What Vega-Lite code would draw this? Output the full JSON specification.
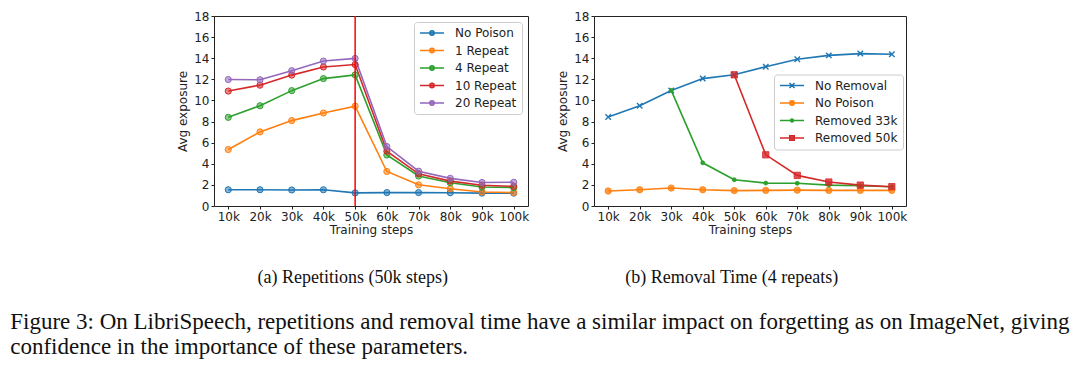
{
  "$schema": "https://vega.github.io/schema/vega-lite/v6.json",
  "background": "white",
  "padding": {"left": 10, "top": 9, "right": 5, "bottom": 5},
  "config": {
    "font": "DejaVu Sans",
    "view": {"stroke": "#222222", "strokeWidth": 1},
    "axis": {"grid": false, "domain": false, "tickColor": "#222222", "tickSize": 3, "labelFont": "DejaVu Sans", "labelFontSize": 12, "labelColor": "#222222", "titleFont": "DejaVu Sans", "titleFontSize": 12, "titleFontWeight": "normal", "titleColor": "#222222", "labelPadding": 2, "labelOverlap": false, "labelFlush": false},
    "legend": {"title": null, "padding": 5, "rowPadding": 5.5, "labelOffset": 24, "symbolSize": 100, "symbolStrokeWidth": 1.5, "labelFont": "DejaVu Sans", "labelFontSize": 12, "labelColor": "#222222", "strokeColor": "#cccccc", "fillColor": "rgba(255,255,255,0.8)", "cornerRadius": 3}
  },
  "title": {
    "text": ["Figure 3: On LibriSpeech, repetitions and removal time have a similar impact on forgetting as on ImageNet, giving", "confidence in the importance of these parameters."],
    "orient": "bottom", "anchor": "start", "frame": "bounds",
    "font": "Liberation Serif", "fontSize": 23, "fontWeight": "normal", "lineHeight": 25, "color": "#111111",
    "dx": -166, "offset": 23
  },
  "datasets": {
    "rep": [
      {"step": 10, "value": 1.54, "series": "No Poison"},
      {"step": 20, "value": 1.54, "series": "No Poison"},
      {"step": 30, "value": 1.52, "series": "No Poison"},
      {"step": 40, "value": 1.54, "series": "No Poison"},
      {"step": 50, "value": 1.24, "series": "No Poison"},
      {"step": 60, "value": 1.27, "series": "No Poison"},
      {"step": 70, "value": 1.27, "series": "No Poison"},
      {"step": 80, "value": 1.26, "series": "No Poison"},
      {"step": 90, "value": 1.22, "series": "No Poison"},
      {"step": 100, "value": 1.22, "series": "No Poison"},
      {"step": 10, "value": 5.35, "series": "1 Repeat"},
      {"step": 20, "value": 7.02, "series": "1 Repeat"},
      {"step": 30, "value": 8.09, "series": "1 Repeat"},
      {"step": 40, "value": 8.81, "series": "1 Repeat"},
      {"step": 50, "value": 9.46, "series": "1 Repeat"},
      {"step": 60, "value": 3.27, "series": "1 Repeat"},
      {"step": 70, "value": 2.01, "series": "1 Repeat"},
      {"step": 80, "value": 1.64, "series": "1 Repeat"},
      {"step": 90, "value": 1.32, "series": "1 Repeat"},
      {"step": 100, "value": 1.27, "series": "1 Repeat"},
      {"step": 10, "value": 8.4, "series": "4 Repeat"},
      {"step": 20, "value": 9.5, "series": "4 Repeat"},
      {"step": 30, "value": 10.93, "series": "4 Repeat"},
      {"step": 40, "value": 12.07, "series": "4 Repeat"},
      {"step": 50, "value": 12.42, "series": "4 Repeat"},
      {"step": 60, "value": 4.83, "series": "4 Repeat"},
      {"step": 70, "value": 2.84, "series": "4 Repeat"},
      {"step": 80, "value": 2.2, "series": "4 Repeat"},
      {"step": 90, "value": 1.8, "series": "4 Repeat"},
      {"step": 100, "value": 1.74, "series": "4 Repeat"},
      {"step": 10, "value": 10.89, "series": "10 Repeat"},
      {"step": 20, "value": 11.45, "series": "10 Repeat"},
      {"step": 30, "value": 12.4, "series": "10 Repeat"},
      {"step": 40, "value": 13.17, "series": "10 Repeat"},
      {"step": 50, "value": 13.4, "series": "10 Repeat"},
      {"step": 60, "value": 5.19, "series": "10 Repeat"},
      {"step": 70, "value": 3.05, "series": "10 Repeat"},
      {"step": 80, "value": 2.36, "series": "10 Repeat"},
      {"step": 90, "value": 1.96, "series": "10 Repeat"},
      {"step": 100, "value": 1.86, "series": "10 Repeat"},
      {"step": 10, "value": 11.98, "series": "20 Repeat"},
      {"step": 20, "value": 11.96, "series": "20 Repeat"},
      {"step": 30, "value": 12.82, "series": "20 Repeat"},
      {"step": 40, "value": 13.73, "series": "20 Repeat"},
      {"step": 50, "value": 13.98, "series": "20 Repeat"},
      {"step": 60, "value": 5.63, "series": "20 Repeat"},
      {"step": 70, "value": 3.3, "series": "20 Repeat"},
      {"step": 80, "value": 2.62, "series": "20 Repeat"},
      {"step": 90, "value": 2.23, "series": "20 Repeat"},
      {"step": 100, "value": 2.25, "series": "20 Repeat"}
    ],
    "rem": [
      {"step": 10, "value": 8.43, "series": "No Removal"},
      {"step": 20, "value": 9.5, "series": "No Removal"},
      {"step": 30, "value": 10.95, "series": "No Removal"},
      {"step": 40, "value": 12.07, "series": "No Removal"},
      {"step": 50, "value": 12.43, "series": "No Removal"},
      {"step": 60, "value": 13.2, "series": "No Removal"},
      {"step": 70, "value": 13.9, "series": "No Removal"},
      {"step": 80, "value": 14.27, "series": "No Removal"},
      {"step": 90, "value": 14.44, "series": "No Removal"},
      {"step": 100, "value": 14.38, "series": "No Removal"},
      {"step": 10, "value": 1.42, "series": "No Poison"},
      {"step": 20, "value": 1.54, "series": "No Poison"},
      {"step": 30, "value": 1.7, "series": "No Poison"},
      {"step": 40, "value": 1.54, "series": "No Poison"},
      {"step": 50, "value": 1.46, "series": "No Poison"},
      {"step": 60, "value": 1.48, "series": "No Poison"},
      {"step": 70, "value": 1.5, "series": "No Poison"},
      {"step": 80, "value": 1.48, "series": "No Poison"},
      {"step": 90, "value": 1.48, "series": "No Poison"},
      {"step": 100, "value": 1.48, "series": "No Poison"},
      {"step": 30, "value": 10.95, "series": "Removed 33k"},
      {"step": 40, "value": 4.09, "series": "Removed 33k"},
      {"step": 50, "value": 2.49, "series": "Removed 33k"},
      {"step": 60, "value": 2.17, "series": "Removed 33k"},
      {"step": 70, "value": 2.15, "series": "Removed 33k"},
      {"step": 80, "value": 1.98, "series": "Removed 33k"},
      {"step": 90, "value": 1.92, "series": "Removed 33k"},
      {"step": 100, "value": 1.83, "series": "Removed 33k"},
      {"step": 50, "value": 12.43, "series": "Removed 50k"},
      {"step": 60, "value": 4.85, "series": "Removed 50k"},
      {"step": 70, "value": 2.9, "series": "Removed 50k"},
      {"step": 80, "value": 2.27, "series": "Removed 50k"},
      {"step": 90, "value": 1.98, "series": "Removed 50k"},
      {"step": 100, "value": 1.83, "series": "Removed 50k"}
    ],
    "cut": [{"step": 50}]
  },
  "spacing": 26,
  "resolve": {"scale": {"color": "independent", "stroke": "independent"}, "legend": {"color": "independent"}},
  "hconcat": [
    {
      "width": 314, "height": 190,
      "title": {"text": "(a) Repetitions (50k steps)", "orient": "bottom", "anchor": "middle", "frame": "bounds", "font": "Liberation Serif", "fontSize": 18, "fontWeight": "normal", "color": "#111111", "offset": 34},
      "layer": [
        {
          "data": {"name": "rep"},
          "mark": {"type": "line", "strokeWidth": 1.6},
          "encoding": {
            "x": {"field": "step", "type": "quantitative", "scale": {"domain": [5.5, 104.5], "nice": false, "zero": false}, "axis": {"values": [10, 20, 30, 40, 50, 60, 70, 80, 90, 100], "labelExpr": "datum.value + 'k'", "title": "Training steps", "titlePadding": 2}},
            "y": {"field": "value", "type": "quantitative", "scale": {"domain": [0, 18], "nice": false}, "axis": {"values": [0, 2, 4, 6, 8, 10, 12, 14, 16, 18], "title": "Avg exposure", "titlePadding": 4}},
            "color": {"field": "series", "type": "nominal",
              "scale": {"domain": ["No Poison", "1 Repeat", "4 Repeat", "10 Repeat", "20 Repeat"], "range": ["#1f77b4", "#ff7f0e", "#2ca02c", "#d62728", "#9467bd"]},
              "legend": {"orient": "top-right", "offset": 6,
                "symbolType": "M-1,0L3.8,0M0.96,0A0.44,0.44 0 1,0 1.84,0A0.44,0.44 0 1,0 0.96,0Z",
                "encode": {"symbols": {"update": {
                  "fill": {"signal": "{'No Poison':'#1f77b4','1 Repeat':'#ff7f0e','4 Repeat':'#2ca02c','10 Repeat':'#d62728','20 Repeat':'#9467bd'}[datum.value]"},
                  "stroke": {"signal": "{'No Poison':'#1f77b4','1 Repeat':'#ff7f0e','4 Repeat':'#2ca02c','10 Repeat':'#d62728','20 Repeat':'#9467bd'}[datum.value]"},
                  "fillOpacity": {"value": 0.7},
                  "opacity": {"value": 1}
                }}}
              }
            }
          }
        },
        {
          "data": {"name": "rep"},
          "mark": {"type": "point", "shape": "circle", "filled": true, "size": 38, "fillOpacity": 0.55, "strokeWidth": 1, "opacity": 1},
          "encoding": {
            "x": {"field": "step", "type": "quantitative", "scale": {"domain": [5.5, 104.5], "nice": false, "zero": false}, "axis": {"values": [10, 20, 30, 40, 50, 60, 70, 80, 90, 100], "labelExpr": "datum.value + 'k'", "title": "Training steps", "titlePadding": 2}},
            "y": {"field": "value", "type": "quantitative", "scale": {"domain": [0, 18], "nice": false}, "axis": {"values": [0, 2, 4, 6, 8, 10, 12, 14, 16, 18], "title": "Avg exposure", "titlePadding": 4}},
            "color": {"field": "series", "type": "nominal", "legend": null},
            "stroke": {"field": "series", "type": "nominal", "legend": null,
              "scale": {"domain": ["No Poison", "1 Repeat", "4 Repeat", "10 Repeat", "20 Repeat"], "range": ["#1f77b4", "#ff7f0e", "#2ca02c", "#d62728", "#9467bd"]}}
          }
        },
        {
          "data": {"name": "cut"},
          "mark": {"type": "rule", "color": "#ff0000", "strokeWidth": 1.5},
          "encoding": {"x": {"field": "step", "type": "quantitative", "scale": {"domain": [5.5, 104.5], "nice": false, "zero": false}, "axis": {"values": [10, 20, 30, 40, 50, 60, 70, 80, 90, 100], "labelExpr": "datum.value + 'k'", "title": "Training steps", "titlePadding": 2}}}
        }
      ]
    },
    {
      "width": 312, "height": 190,
      "title": {"text": "(b) Removal Time (4 repeats)", "orient": "bottom", "anchor": "middle", "frame": "bounds", "font": "Liberation Serif", "fontSize": 18, "fontWeight": "normal", "color": "#111111", "offset": 34},
      "data": {"name": "rem"},
      "encoding": {
        "x": {"field": "step", "type": "quantitative", "scale": {"domain": [5.5, 104.5], "nice": false, "zero": false}, "axis": {"values": [10, 20, 30, 40, 50, 60, 70, 80, 90, 100], "labelExpr": "datum.value + 'k'", "title": "Training steps", "titlePadding": 2}},
        "y": {"field": "value", "type": "quantitative", "scale": {"domain": [0, 18], "nice": false}, "axis": {"values": [0, 2, 4, 6, 8, 10, 12, 14, 16, 18], "title": "Avg exposure", "titlePadding": 4}}
      },
      "layer": [
        {
          "mark": {"type": "line", "strokeWidth": 1.6},
          "encoding": {
            "color": {"field": "series", "type": "nominal",
              "scale": {"domain": ["No Removal", "No Poison", "Removed 33k", "Removed 50k"], "range": ["#1f77b4", "#ff7f0e", "#2ca02c", "#d62728"]},
              "legend": {"orient": "none", "legendX": 180, "legendY": 58.5,
                "encode": {"symbols": {"update": {
                  "shape": {"signal": "{'No Removal':'M-1,0L3.8,0M0.9,-0.5L1.9,0.5M0.9,0.5L1.9,-0.5','No Poison':'M-1,0L3.8,0M0.95,0A0.45,0.45 0 1,0 1.85,0A0.45,0.45 0 1,0 0.95,0Z','Removed 33k':'M-1,0L3.8,0M1.1,0A0.3,0.3 0 1,0 1.7,0A0.3,0.3 0 1,0 1.1,0Z','Removed 50k':'M-1,0L3.8,0M0.95,-0.45L1.85,-0.45L1.85,0.45L0.95,0.45Z'}[datum.value]"},
                  "fill": {"signal": "{'No Removal':'#1f77b4','No Poison':'#ff7f0e','Removed 33k':'#2ca02c','Removed 50k':'#d62728'}[datum.value]"},
                  "stroke": {"signal": "{'No Removal':'#1f77b4','No Poison':'#ff7f0e','Removed 33k':'#2ca02c','Removed 50k':'#d62728'}[datum.value]"},
                  "fillOpacity": {"value": 0.8},
                  "opacity": {"value": 1}
                }}}
              }
            }
          }
        },
        {
          "transform": [{"filter": "datum.series === 'No Removal'"}],
          "mark": {"type": "point", "shape": "M-1,-1L1,1M-1,1L1,-1", "filled": false, "size": 30, "strokeWidth": 1.4, "color": "#1f77b4", "opacity": 1}
        },
        {
          "transform": [{"filter": "datum.series === 'No Poison'"}],
          "mark": {"type": "point", "shape": "circle", "filled": true, "size": 40, "color": "#ff7f0e", "stroke": "#ff7f0e", "strokeWidth": 0.8, "fillOpacity": 0.8, "opacity": 1}
        },
        {
          "transform": [{"filter": "datum.series === 'Removed 33k'"}],
          "mark": {"type": "point", "shape": "circle", "filled": true, "size": 16, "color": "#2ca02c", "stroke": "#2ca02c", "strokeWidth": 0.8, "opacity": 1}
        },
        {
          "transform": [{"filter": "datum.series === 'Removed 50k'"}],
          "mark": {"type": "point", "shape": "square", "filled": true, "size": 40, "color": "#d62728", "stroke": "#d62728", "strokeWidth": 0.8, "fillOpacity": 0.8, "opacity": 1}
        }
      ]
    }
  ]
}
